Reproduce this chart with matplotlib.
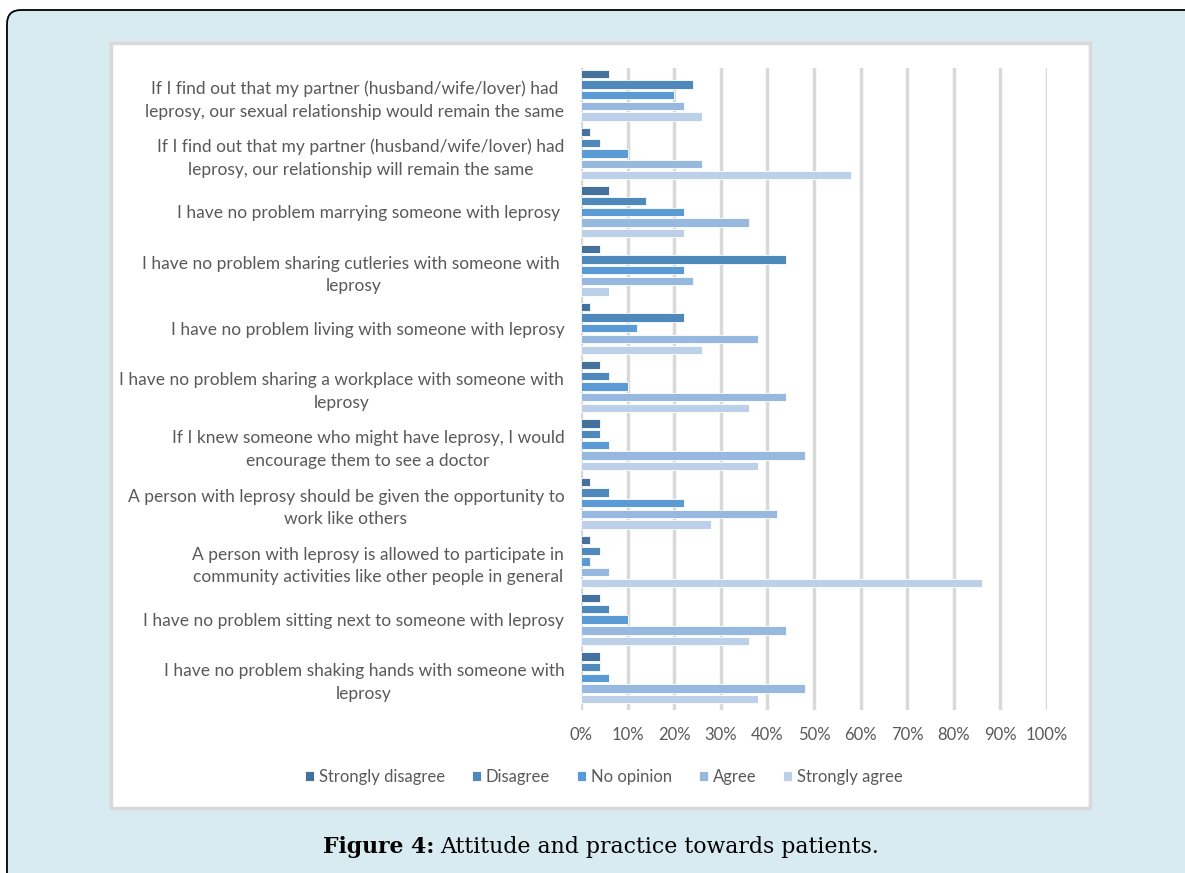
import matplotlib.pyplot as plt
from matplotlib.patches import FancyBboxPatch, Rectangle
import numpy as np

statements = [
    "If I find out that my partner (husband/wife/lover) had\nleprosy, our sexual relationship would remain the same",
    "If I find out that my partner (husband/wife/lover) had\nleprosy, our relationship will remain the same",
    "I have no problem marrying someone with leprosy ",
    "I have no problem sharing cutleries with someone with \nleprosy",
    "I have no problem living with someone with leprosy",
    "I have no problem sharing a workplace with someone with\nleprosy",
    "If I knew someone who might have leprosy, I would\nencourage them to see a doctor",
    "A person with leprosy should be given the opportunity to\nwork like others",
    "A person with leprosy is allowed to participate in\ncommunity activities like other people in general",
    "I have no problem sitting next to someone with leprosy",
    "I have no problem shaking hands with someone with\nleprosy",
]
series_names = ["Strongly disagree", "Disagree", "No opinion", "Agree", "Strongly agree"]

strongly_disagree = [6, 2, 6, 4, 2, 4, 4, 2, 2, 4, 4]
disagree = [24, 4, 14, 44, 22, 6, 4, 6, 4, 6, 4]
no_opinion = [20, 10, 22, 22, 12, 10, 6, 22, 2, 10, 6]
agree = [22, 26, 36, 24, 38, 44, 48, 42, 6, 44, 48]
strongly_agree = [26, 58, 22, 6, 26, 36, 38, 28, 86, 36, 38]

colors = ["#44729d", "#4f88bb", "#5b9bd5", "#97b8df", "#bcd0ea"]
text_grey = "#595959"

W, H = 1185, 873
fig = plt.figure(figsize=(W / 100, H / 100), dpi=100)
fig.patch.set_facecolor("white")

# fondo de la pagina y marco
bg = fig.add_axes([0, 0, 1, 1])
bg.set_xlim(0, W)
bg.set_ylim(H, 0)
bg.axis("off")
bg.add_patch(FancyBboxPatch((7, 10), W + 40, H + 40, boxstyle="round,pad=0,rounding_size=14",
                            facecolor="#d7ebf1", edgecolor="black", linewidth=1.3))
bg.add_patch(Rectangle((111, 43), 979, 765, facecolor="white", edgecolor="#d9d9d9", linewidth=2.5))

# caption: parte en negrita y luego el resto
cap_font = dict(fontsize=15.8, family="DejaVu Serif", va="baseline", color="black")
t1 = bg.text(323, 853, "Figure 4:", fontweight="bold", ha="left", **cap_font)
renderer = fig.canvas.get_renderer()
bb = t1.get_window_extent(renderer=renderer)
x_next = bg.transData.inverted().transform((bb.x1, bb.y0))[0] + 6
bg.text(x_next, 853, "Attitude and practice towards patients.", ha="left", **cap_font)

# grafico
x0, x1, y0, y1 = 581, 1047, 68, 710
ax = fig.add_axes([x0 / W, 1 - y1 / H, (x1 - x0) / W, (y1 - y0) / H])
ax.set_facecolor("none")

data = [strongly_disagree, disagree, no_opinion, agree, strongly_agree]
group_step = 5.45
bar_h = 0.78
centers = np.arange(len(statements)) * group_step
for i, (vals, c, name) in enumerate(zip(data, colors, series_names)):
    ax.barh(centers + i, vals, height=bar_h, color=c, edgecolor="white", linewidth=0.6,
            label=name, zorder=3)

ax.set_xlim(0, 100)
ax.set_ylim(centers[-1] + 4 + 1.0, -0.55)
ax.set_xticks(np.arange(0, 101, 10))
ax.set_xticklabels([f"{v}%" for v in range(0, 101, 10)], color=text_grey, fontsize=12, family="Lato")
ax.xaxis.grid(True, color="#d9d9d9", linewidth=2.5, zorder=0)
ax.tick_params(axis="x", length=0, pad=12)
ax.set_yticks(centers + 2)
ax.set_yticklabels(statements, color=text_grey, fontsize=12.5, family="Lato", linespacing=1.5)
for lab in ax.get_yticklabels():
    lab.set_multialignment("center")
ax.tick_params(axis="y", length=0, pad=12)
for s in ax.spines.values():
    s.set_visible(False)

leg = fig.legend(loc="center", bbox_to_anchor=(604 / W, 1 - 777 / H), ncol=5, frameon=False,
                 prop={"family": "Lato", "size": 12}, handlelength=0.55, handleheight=0.55,
                 handletextpad=0.3, columnspacing=1.6)
for t in leg.get_texts():
    t.set_color(text_grey)

fig.savefig("out.png", dpi=100)
